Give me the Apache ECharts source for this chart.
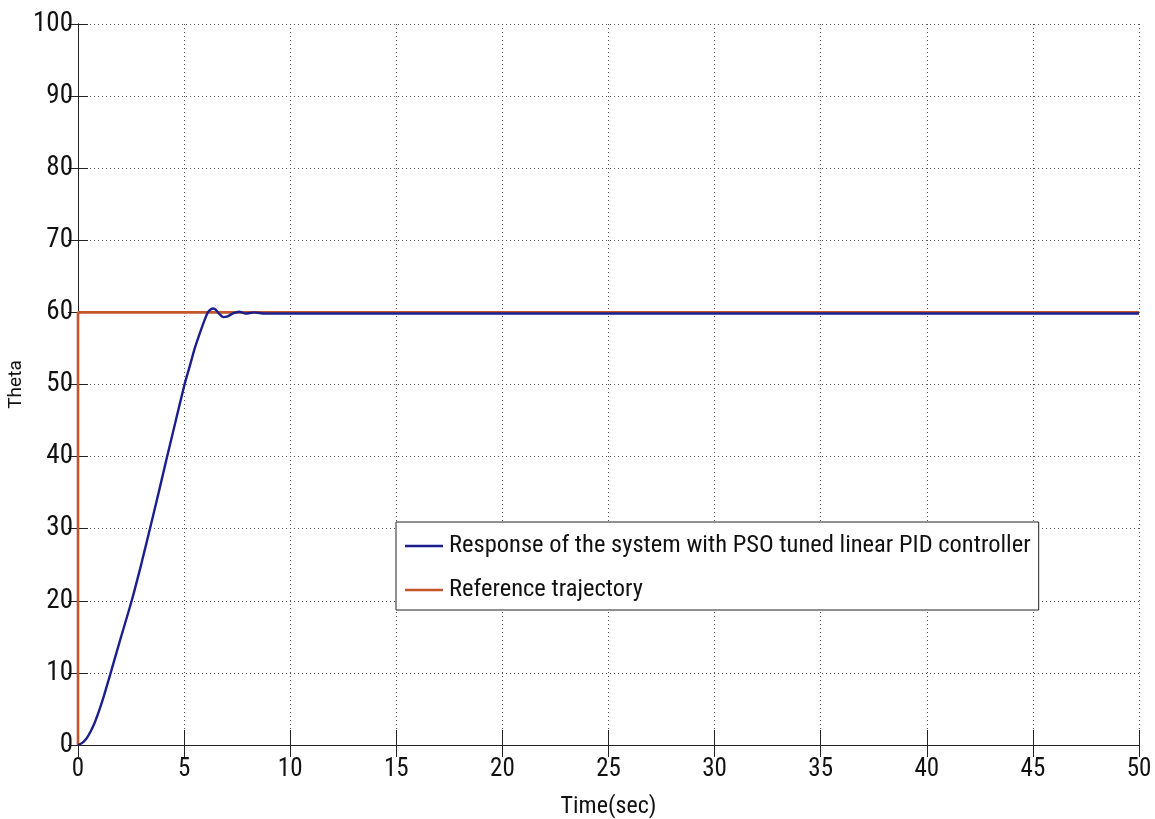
<!DOCTYPE html>
<html>
<head>
<meta charset="utf-8">
<script src="https://cdn.jsdelivr.net/npm/echarts@6/dist/echarts.min.js"></script>
<style>
  html, body { margin: 0; padding: 0; background: #fff; }
  #chart { width: 1155px; height: 819px; }
</style>
</head>
<body>
<div id="chart"></div>
<script>
// Step response of the PSO-tuned PID loop against a 60-unit reference
const timeSec = [0, 0.2, 0.4, 0.6, 0.8, 1.0, 1.2, 1.54, 2.0, 2.53, 3.0, 3.39, 3.8, 4.2, 4.6, 5.02,
                 5.3, 5.5, 5.8, 6.0, 6.12, 6.25, 6.38, 6.5, 6.65, 6.85, 7.05, 7.3, 7.6, 7.9, 8.3, 8.8, 10, 20, 30, 40, 50];
const responseTheta = [0, 0.3, 0.9, 1.9, 3.2, 4.8, 6.6, 10, 14.7, 20, 25.3, 30, 35.0, 40, 44.9, 50,
                 52.9, 55, 57.6, 59.2, 60.0, 60.4, 60.55, 60.35, 59.8, 59.35, 59.45, 59.85, 60.1, 59.85, 60.0, 59.85, 59.85, 59.85, 59.85, 59.85, 59.85];

const refTime = [0, 0, 50];
const refTheta = [0, 60, 60];

const xTicks = { min: 0, max: 50, interval: 5 };
const yTicks = { min: 0, max: 100, interval: 10 };

const seriesNames = ['Response of the system with PSO tuned linear PID controller', 'Reference trajectory'];
const seriesColors = ['#1b1f8e', '#c4552b'];

const tickFont = '"Roboto Condensed", "Liberation Sans", sans-serif';

const chart = echarts.init(document.getElementById('chart'), null, { renderer: 'canvas' });

const gridLine = { show: true, lineStyle: { color: '#555', width: 1, type: [1, 3] } };
const boxLine = { show: true, lineStyle: { color: '#222', width: 1 } };

const option = {
  backgroundColor: '#fff',
  animation: false,
  grid: { left: 78, right: 16, top: 24, bottom: 74, containLabel: false, outerBoundsMode: 'none' },
  legend: {
    orient: 'vertical',
    left: 396,
    top: 522,
    backgroundColor: '#fff',
    borderColor: '#222',
    borderWidth: 1,
    borderRadius: 0,
    padding: [10, 8, 6, 9],
    itemGap: 16,
    itemWidth: 38,
    itemHeight: 2.5,
    icon: 'rect',
    selectedMode: false,
    data: [seriesNames[0], seriesNames[1]],
    textStyle: { fontFamily: tickFont, fontSize: 24.5, color: '#111', lineHeight: 28, padding: [0, 0, 0, 1] }
  },
  xAxis: [
    {
      type: 'value', min: xTicks.min, max: xTicks.max, interval: xTicks.interval,
      name: 'Time(sec)', nameLocation: 'middle', nameGap: 50,
      nameTextStyle: { fontFamily: tickFont, fontSize: 24, color: '#111' },
      axisLine: boxLine,
      axisTick: { show: true, inside: true, length: 15, lineStyle: { color: '#222' } },
      axisLabel: { fontFamily: tickFont, fontSize: 25, color: '#111', margin: 12 },
      splitLine: gridLine
    },
    {
      type: 'value', position: 'top', min: xTicks.min, max: xTicks.max, interval: xTicks.interval,
      axisLine: boxLine,
      axisTick: { show: true, inside: true, length: 12, lineStyle: { color: '#222' } },
      axisLabel: { show: false },
      splitLine: { show: false }
    }
  ],
  yAxis: [
    {
      type: 'value', min: yTicks.min, max: yTicks.max, interval: yTicks.interval,
      name: 'Theta', nameLocation: 'middle', nameGap: 52, nameRotate: 90, nameMoveOverlap: false,
      nameTextStyle: { fontFamily: 'Roboto', fontSize: 19, color: '#111' },
      axisLine: boxLine,
      axisTick: { show: true, inside: true, length: 10, lineStyle: { color: '#222' } },
      axisLabel: { fontFamily: tickFont, fontSize: 27, color: '#111', margin: 5 },
      splitLine: gridLine
    },
    {
      type: 'value', position: 'right', min: yTicks.min, max: yTicks.max, interval: yTicks.interval,
      axisLine: boxLine,
      axisTick: { show: true, inside: true, length: 10, lineStyle: { color: '#222' } },
      axisLabel: { show: false },
      splitLine: { show: false }
    }
  ],
  series: [
    {
      name: seriesNames[1],
      type: 'line',
      xAxisIndex: 0, yAxisIndex: 0,
      data: refTime.map((t, i) => [t, refTheta[i]]),
      showSymbol: false, symbol: 'none',
      lineStyle: { color: seriesColors[1], width: 2.6 },
      itemStyle: { color: seriesColors[1] },
      z: 2
    },
    {
      name: seriesNames[0],
      type: 'line',
      xAxisIndex: 0, yAxisIndex: 0,
      data: timeSec.map((t, i) => [t, responseTheta[i]]),
      showSymbol: false, symbol: 'none', smooth: 0.2,
      lineStyle: { color: seriesColors[0], width: 2.4 },
      itemStyle: { color: seriesColors[0] },
      z: 3
    }
  ]
};

chart.setOption(option);
</script>
</body>
</html>
